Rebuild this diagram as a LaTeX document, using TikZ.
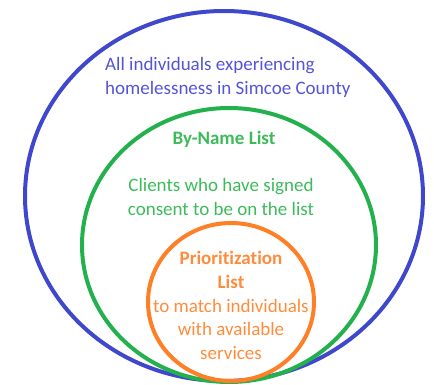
\documentclass[tikz,border=0pt]{standalone}
\usepackage{fontspec}
\setmainfont{Carlito}[Ligatures=NoCommon]
\definecolor{ringblue}{HTML}{3F48CC}
\definecolor{ringgreen}{HTML}{22B14C}
\definecolor{ringorange}{HTML}{FF7F27}
\definecolor{textblue}{HTML}{5454D6}
\definecolor{textgreen}{HTML}{3DBB5A}
\definecolor{textorange}{HTML}{FF8C3C}
\tikzset{
  ring/.style={line width=4pt},
  label text/.style={inner sep=0pt, font=\fontsize{19}{23.8}\selectfont}
}
\begin{document}
\begin{tikzpicture}[x=1pt, y=-1pt]
    \useasboundingbox (0,0) rectangle (434,385);
    % the three nested sets
    \draw[ring, ringblue] (224,196) ellipse [x radius=199, y radius=185];
    \draw[ring, ringgreen] (229,245) ellipse [x radius=147, y radius=137];
    \draw[ring, ringorange] (231,302) ellipse [x radius=83, y radius=79];
    % labels
    \node[label text, textblue, align=left, anchor=north west] (all) at (105,57)
        {All individuals experiencing\\homelessness in Simcoe County};
    \node[label text, textgreen, anchor=north, font=\fontsize{19}{23.8}\selectfont\bfseries] (byname) at (224,131) {By-Name List};
    \node[label text, textgreen, align=center, anchor=north] (clients) at (221,178)
        {Clients who have signed\\consent to be on the list};
    \node[label text, textorange, align=center, anchor=north] (prio) at (231,251)
        {\textbf{Prioritization}\\\textbf{List}\\to match individuals\\with available\\services};
\end{tikzpicture}
\end{document}
